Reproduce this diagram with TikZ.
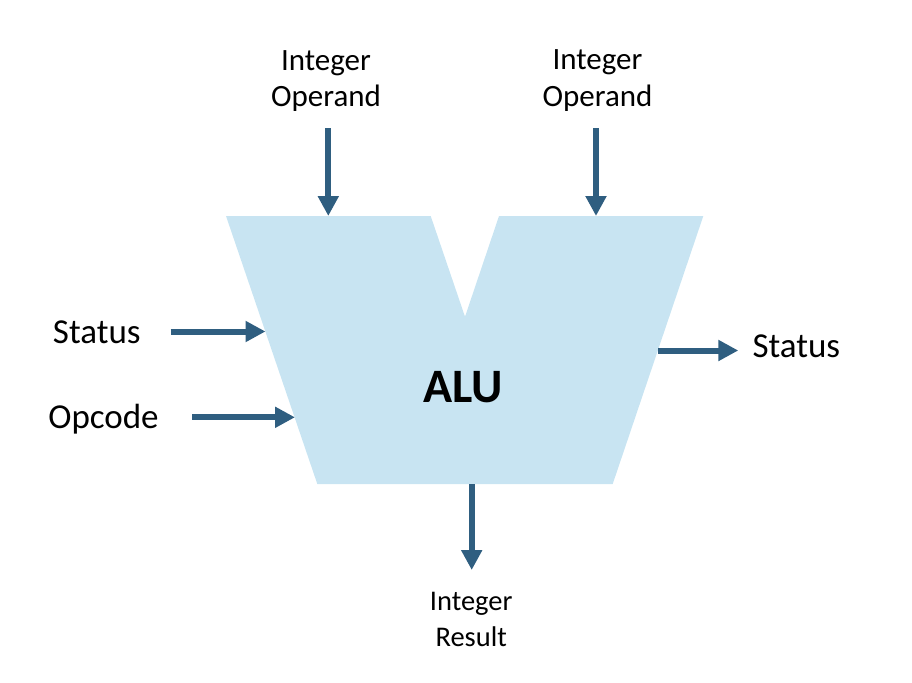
\documentclass[tikz,border=0pt]{standalone}
\usepackage{fontspec}
\setmainfont{Carlito}
\usetikzlibrary{arrows.meta}
\definecolor{alufill}{RGB}{200,228,242}
\definecolor{arrowc}{RGB}{47,94,128}
\tikzset{
  sig/.style={draw=arrowc, line width=6pt, -{Triangle[length=20pt,width=20pt]}},
  lbl/.style={inner sep=0pt, text=black},
  twoline/.style={lbl, align=center, anchor=north},
}
\begin{document}
\begin{tikzpicture}[x=1pt,y=-1pt]
\useasboundingbox (0,0) rectangle (912,682);
% ALU shape vertices
\coordinate (tl) at (226,216);
\coordinate (til) at (430.7,216);
\coordinate (notch) at (465,316.7);
\coordinate (tir) at (499,216);
\coordinate (tr) at (703.3,216);
\coordinate (br) at (612.7,484);
\coordinate (bl) at (317.3,484);
\fill[alufill] (tl) -- (til) -- (notch) -- (tir) -- (tr) -- (br) -- (bl) -- cycle;
\node[lbl, anchor=base, font=\fontsize{48}{56}\selectfont\bfseries] (alu) at (462.8,402) {ALU};

% labels
\node[twoline, font=\fontsize{31}{36.7}\selectfont] (opA) at (326,50) {Integer\\Operand};
\node[twoline, font=\fontsize{31}{36.7}\selectfont] (opB) at (597.5,49.3) {Integer\\Operand};
\node[twoline, font=\fontsize{28.5}{36}\selectfont] (res) at (471.2,592) {Integer\\Result};
\node[lbl, anchor=base, font=\fontsize{35}{42}\selectfont] (stin) at (96.8,343.3) {Status};
\node[lbl, anchor=base, font=\fontsize{35}{42}\selectfont] (opc) at (103.5,428) {Opcode};
\node[lbl, anchor=base, font=\fontsize{35}{42}\selectfont] (stout) at (796.3,357.3) {Status};

% arrow end points
\coordinate (aS) at (328.3,128);
\coordinate (aE) at (328.3,216);
\coordinate (bS) at (596,128);
\coordinate (bE) at (596,216);
\coordinate (sS) at (170.7,331.5);
\coordinate (sE) at (265.5,331.5);
\coordinate (oS) at (192.3,417.3);
\coordinate (oE) at (295,417.3);
\coordinate (rS) at (658,350.5);
\coordinate (rE) at (738.3,350.5);
\coordinate (qS) at (471.7,484);
\coordinate (qE) at (471.7,570);

\draw[sig] (aS) -- (aE);
\draw[sig] (bS) -- (bE);
\draw[sig] (sS) -- (sE);
\draw[sig] (oS) -- (oE);
\draw[sig] (rS) -- (rE);
\draw[sig] (qS) -- (qE);
\end{tikzpicture}
\end{document}
